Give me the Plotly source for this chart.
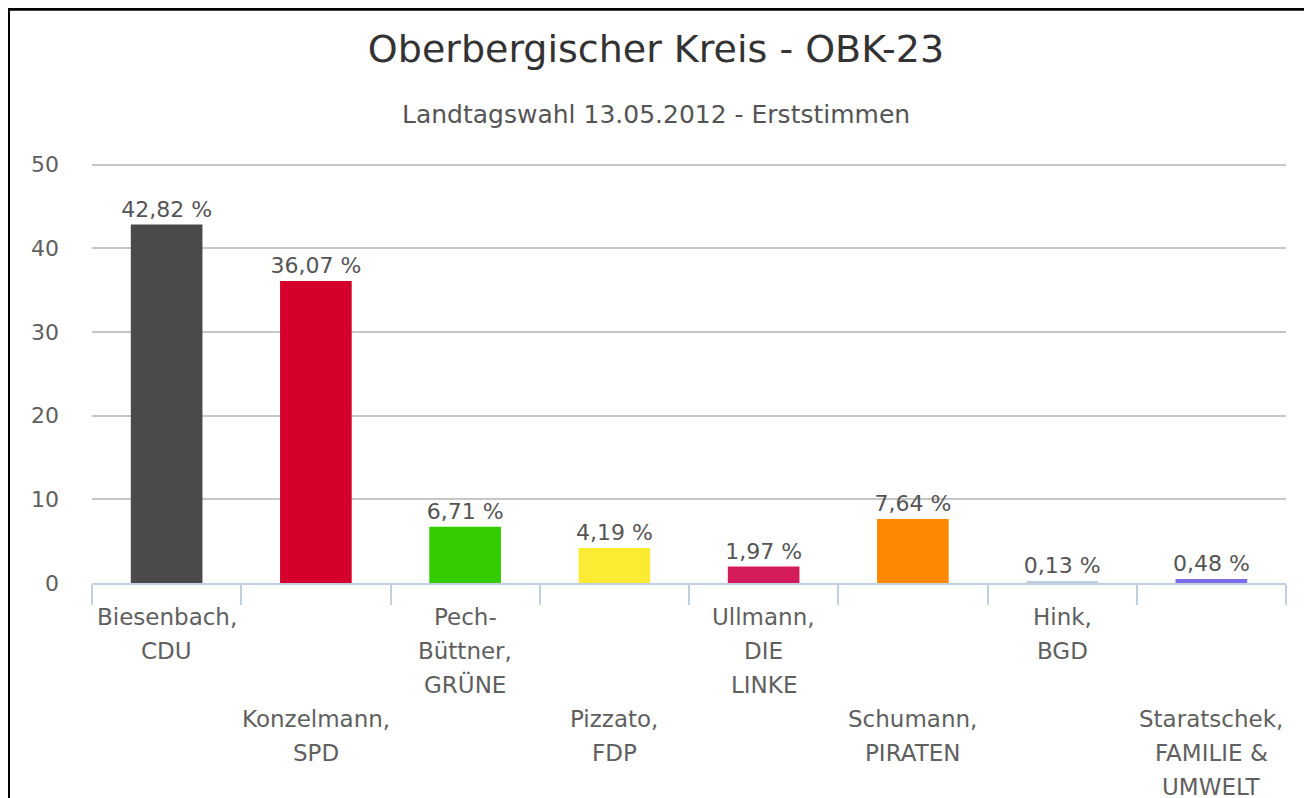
import plotly.graph_objects as go

categories = ["Biesenbach,\nCDU", "Konzelmann,\nSPD", "Pech-\nBüttner,\nGRÜNE", "Pizzato,\nFDP",
              "Ullmann,\nDIE\nLINKE", "Schumann,\nPIRATEN", "Hink,\nBGD", "Staratschek,\nFAMILIE &\nUMWELT"]
values = [42.82, 36.07, 6.71, 4.19, 1.97, 7.64, 0.13, 0.48]
colors = ["#4a4a4a", "#d5002b", "#33cc00", "#fceb33", "#d41c5c", "#ff8800", "#c0d0e0", "#7b6ee8"]
y_ticks = [0, 10, 20, 30, 40, 50]
title_text = "Oberbergischer Kreis - OBK-23"
subtitle_text = "Landtagswahl 13.05.2012 - Erststimmen"

# page body has an 8px margin; figure coordinates are shifted accordingly
W, H = 1312, 798
Y_MAX = 50.3
px_per_unit = 418 / 50
L, R, B = 84, 34, 223
T = 157 - (Y_MAX - 50) * px_per_unit
plot_h = H - T - B
plot_w = W - L - R
FONT = "DejaVu Sans"

labels = [f"{v:.2f} %".replace(".", ",") for v in values]

fig = go.Figure(go.Bar(
    x=categories, y=values, marker=dict(color=colors, line=dict(width=0)),
    text=labels, textposition="outside", constraintext="none", cliponaxis=False,
    textfont=dict(family=FONT, size=22, color="#555555"),
    hoverinfo="skip",
))

annotations = []
for i, cat in enumerate(categories):
    offset = 0 if i % 2 == 0 else 3
    for j, line in enumerate(cat.split("\n")):
        ypix = 608.5 + 34 * (offset + j)
        annotations.append(dict(
            x=i, xref="x", y=(H - B - ypix) / plot_h, yref="paper",
            text=line, showarrow=False, xanchor="center", yanchor="middle",
            font=dict(family=FONT, size=23, color="#606060"),
        ))

annotations.append(dict(
    x=(648 - L) / plot_w, xref="paper", y=(H - B - 107.5) / plot_h, yref="paper",
    text=subtitle_text, showarrow=False, xanchor="center", yanchor="middle",
    font=dict(family=FONT, size=25, color="#555555"),
))

fig.update_layout(
    width=W, height=H,
    margin=dict(l=L, r=R, t=T, b=B, autoexpand=False),
    paper_bgcolor="white", plot_bgcolor="white",
    showlegend=False,
    bargap=0.52,
    title=dict(text=title_text, x=648 / W, xref="container", xanchor="center",
               y=1 - 40.5 / H, yref="container", yanchor="middle",
               font=dict(family=FONT, size=38, color="#333333")),
    xaxis=dict(
        type="category", categoryorder="array", categoryarray=categories,
        range=[-0.5, len(categories) - 0.5],
        showticklabels=False, tickson="boundaries", ticks="outside", ticklen=20,
        tickcolor="#c0d0e0", tickwidth=2, showline=True, linecolor="#c0d0e0", linewidth=2,
        showgrid=False, zeroline=False, fixedrange=True,
    ),
    yaxis=dict(
        range=[0, Y_MAX], tickmode="array", tickvals=y_ticks,
        tickfont=dict(family=FONT, size=22, color="#606060"),
        showgrid=True, gridcolor="#c6c6c6", gridwidth=2, zeroline=False,
        ticks="", ticklabelstandoff=32, showline=False, fixedrange=True,
    ),
    annotations=annotations,
    shapes=[dict(
        type="rect", xref="paper", yref="paper",
        x0=(0.5 - L) / plot_w, x1=(1298 - L) / plot_w,
        y0=(H - B - 830) / plot_h, y1=(H - B - 2) / plot_h,
        line=dict(color="black", width=3), fillcolor="rgba(0,0,0,0)", layer="above",
    )],
)

fig.write_html("out.html")
